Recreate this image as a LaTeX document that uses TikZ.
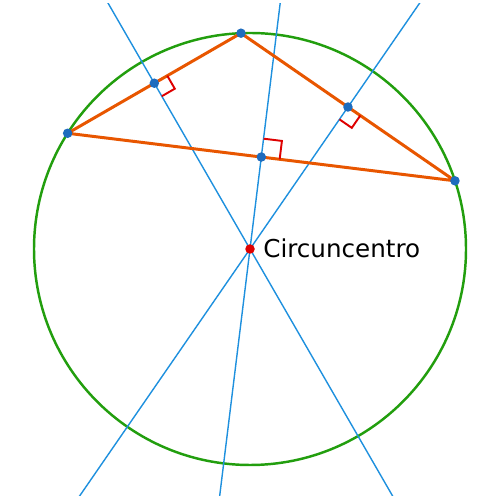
\documentclass[tikz,border=0pt]{standalone}
\usepackage{fontspec}
\setmainfont{DejaVu Sans}
\usetikzlibrary{calc}
\definecolor{cgreen}{RGB}{34,158,14}
\definecolor{corange}{RGB}{232,86,0}
\definecolor{cblue}{RGB}{30,144,222}
\definecolor{cdot}{RGB}{30,108,190}
\definecolor{cred}{RGB}{222,0,0}

\begin{document}
\begin{tikzpicture}[
  circ/.style={cgreen,line width=1.4pt},
  side/.style={corange,line width=1.7pt,line join=round},
  bis/.style={cblue,line width=0.8pt},
  ang/.style={cred,line width=1.1pt},
  dot/.style={circle,fill=cdot,inner sep=0pt,minimum size=0.19cm},
  cdot/.style={circle,fill=cred,inner sep=0pt,minimum size=0.19cm}
]
\useasboundingbox (0,0) rectangle (10,10);
% circumcircle and vertices
\coordinate (O) at (5,5.02);
\coordinate (A) at ($(O)+(92.4:4.32)$);
\coordinate (B) at ($(O)+(147.6:4.32)$);
\coordinate (C) at ($(O)+(18.4:4.32)$);
\coordinate (mab) at ($(A)!0.5!(B)$);
\coordinate (mac) at ($(A)!0.5!(C)$);
\coordinate (mbc) at ($(B)!0.5!(C)$);
\draw[circ] (O) circle (4.32);
% perpendicular bisectors
\begin{scope}
\clip (0,0.08) rectangle (10,9.92);
\draw[bis] ($(O)!7.5cm!(mab)$) -- ($(O)!-7.5cm!(mab)$);
\draw[bis] ($(O)!7.5cm!(mac)$) -- ($(O)!-7.5cm!(mac)$);
\draw[bis] ($(O)!7.5cm!(mbc)$) -- ($(O)!-7.5cm!(mbc)$);
\end{scope}
\draw[side] (A) -- (B) -- (C) -- cycle;
% right angles
\path ($(mab)!0.3cm!(A)$) coordinate (p1) ($(mab)!0.3cm!(O)$) coordinate (q1);
\draw[ang] (p1) -- ($(p1)+(q1)-(mab)$) -- (q1);
\path ($(mac)!0.3cm!(C)$) coordinate (p2) ($(mac)!0.3cm!(O)$) coordinate (q2);
\draw[ang] (p2) -- ($(p2)+(q2)-(mac)$) -- (q2);
\path ($(mbc)!0.37cm!(C)$) coordinate (p3) ($(mbc)!-0.37cm!(O)$) coordinate (q3);
\draw[ang] (p3) -- ($(p3)+(q3)-(mbc)$) -- (q3);
% points
\node[dot] (a) at (A) {};
\node[dot] (b) at (B) {};
\node[dot] (c) at (C) {};
\node[dot] (ab) at (mab) {};
\node[dot] (ac) at (mac) {};
\node[dot] (bc) at (mbc) {};
\node[cdot] (o) at (O) {};
\node[anchor=west,font=\fontsize{14}{16}\selectfont,inner sep=0pt] (lbl)
  at ($(O)+(0.26,0.02)$) {Circuncentro};
\end{tikzpicture}
\end{document}
